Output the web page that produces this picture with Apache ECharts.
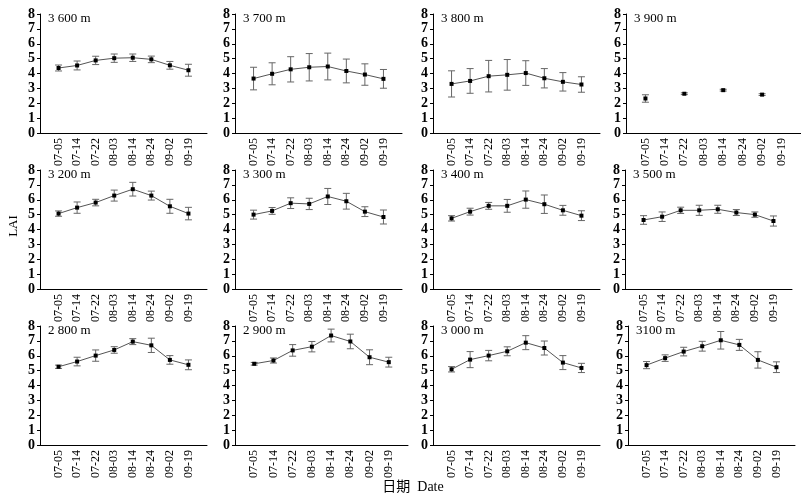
<!DOCTYPE html>
<html>
<head>
<meta charset="utf-8">
<script src="https://cdn.jsdelivr.net/npm/echarts@6/dist/echarts.min.js"></script>
<style>
html,body{margin:0;padding:0;background:#fff;}
#chart{width:801px;height:496px;}
</style>
</head>
<body>
<div id="chart"></div>
<script>
// ---- data ----
const dates = ['07-05','07-14','07-22','08-03','08-14','08-24','09-02','09-19'];
const panelNames = ['3 600 m','3 700 m','3 800 m','3 900 m','3 200 m','3 300 m','3 400 m','3 500 m','2 800 m','2 900 m','3 000 m','3100 m'];
const yTicks = [0,1,2,3,4,5,6,7,8];

const lai3600 = [4.37, 4.54, 4.88, 5.03, 5.06, 4.95, 4.55, 4.22];
const sd3600  = [0.20, 0.30, 0.28, 0.28, 0.25, 0.22, 0.26, 0.40];
const lai3700 = [3.66, 3.98, 4.28, 4.42, 4.47, 4.17, 3.93, 3.64];
const sd3700  = [0.76, 0.74, 0.85, 0.92, 0.90, 0.80, 0.72, 0.63];
const lai3800 = [3.30, 3.50, 3.82, 3.91, 4.03, 3.68, 3.44, 3.26];
const sd3800  = [0.88, 0.83, 1.06, 1.03, 0.83, 0.65, 0.62, 0.52];
const lai3900 = [2.32, null, 2.64, null, 2.88, null, 2.58, null];
const sd3900  = [0.25, null, 0.06, null, 0.06, null, 0.06, null];

const lai3200 = [5.07, 5.47, 5.81, 6.28, 6.71, 6.28, 5.56, 5.07];
const sd3200  = [0.18, 0.38, 0.22, 0.37, 0.46, 0.30, 0.47, 0.42];
const lai3300 = [5.00, 5.25, 5.77, 5.72, 6.22, 5.90, 5.20, 4.84];
const sd3300  = [0.30, 0.23, 0.36, 0.38, 0.54, 0.53, 0.33, 0.47];
const lai3400 = [4.75, 5.20, 5.59, 5.59, 6.01, 5.70, 5.29, 4.93];
const sd3400  = [0.18, 0.23, 0.23, 0.43, 0.58, 0.62, 0.33, 0.33];
const lai3500 = [4.64, 4.86, 5.29, 5.29, 5.36, 5.14, 5.00, 4.57];
const sd3500  = [0.29, 0.32, 0.21, 0.34, 0.27, 0.20, 0.18, 0.34];

const lai2800 = [5.26, 5.61, 6.01, 6.39, 6.95, 6.70, 5.72, 5.39];
const sd2800  = [0.11, 0.29, 0.38, 0.22, 0.20, 0.48, 0.29, 0.33];
const lai2900 = [5.46, 5.68, 6.36, 6.61, 7.36, 6.96, 5.90, 5.57];
const sd2900  = [0.09, 0.17, 0.39, 0.35, 0.43, 0.49, 0.50, 0.33];
const lai3000 = [5.09, 5.74, 6.01, 6.30, 6.88, 6.52, 5.54, 5.18];
const sd3000  = [0.18, 0.54, 0.35, 0.30, 0.47, 0.47, 0.47, 0.31];
const lai3100 = [5.37, 5.84, 6.28, 6.64, 7.04, 6.73, 5.72, 5.23];
const sd3100  = [0.24, 0.22, 0.29, 0.33, 0.59, 0.37, 0.55, 0.36];

const means = [lai3600, lai3700, lai3800, lai3900, lai3200, lai3300, lai3400, lai3500, lai2800, lai2900, lai3000, lai3100];
const sds   = [sd3600, sd3700, sd3800, sd3900, sd3200, sd3300, sd3400, sd3500, sd2800, sd2900, sd3000, sd3100];

// ---- layout ----
const rowTops = [14, 170, 326];
const gridH = 119;
const lefts  = [40, 235, 433, 626, 40, 235, 433, 625, 40, 235, 433, 628];
const widths = [167, 167, 167, 184, 167, 167, 167, 167, 167, 173, 167, 167];
const SERIF = '"Liberation Serif", "Times New Roman", serif';

const chart = echarts.init(document.getElementById('chart'), null, {renderer: 'canvas'});
const grid = [], xAxis = [], yAxis = [], series = [], title = [];
const xCats = [''].concat(dates).concat(['']);

for (let i = 0; i < 12; i++) {
  const r = Math.floor(i / 4);
  const top = rowTops[r];
  grid.push({left: lefts[i], top: top, width: widths[i], height: gridH});
  xAxis.push({
    type: 'category', gridIndex: i, boundaryGap: false, data: xCats,
    axisLine: {show: true, lineStyle: {color: '#000', width: 1}},
    axisTick: {show: false},
    axisLabel: {rotate: 90, interval: 0, fontSize: 12, fontFamily: SERIF, color: '#000', margin: 5},
    splitLine: {show: false}
  });
  yAxis.push({
    type: 'value', gridIndex: i, min: yTicks[0], max: yTicks[yTicks.length - 1], interval: 1,
    axisLine: {show: true, lineStyle: {color: '#000', width: 1}},
    axisTick: {show: true, inside: false, length: 3, lineStyle: {color: '#000'}},
    axisLabel: {fontSize: 14, fontFamily: SERIF, color: '#000', margin: 5, fontWeight: 'bold'},
    splitLine: {show: false}
  });
  title.push({
    text: panelNames[i], left: lefts[i] + 8, top: top - 2, padding: 0,
    textStyle: {fontSize: 13, fontFamily: SERIF, color: '#000', fontWeight: 'normal'}
  });
  const m = means[i], s = sds[i];
  const errData = [];
  m.forEach((v, j) => { if (v != null) errData.push([j + 1, v - s[j], v + s[j]]); });
  series.push({
    type: 'custom', xAxisIndex: i, yAxisIndex: i, data: errData, z: 2, silent: true,
    renderItem: function (params, api) {
      const x = api.value(0);
      const lo = api.coord([x, api.value(1)]);
      const hi = api.coord([x, api.value(2)]);
      const hw = 3.5;
      const st = {stroke: '#666', lineWidth: 1, fill: null};
      return {type: 'group', children: [
        {type: 'line', shape: {x1: lo[0], y1: lo[1], x2: hi[0], y2: hi[1]}, style: st},
        {type: 'line', shape: {x1: lo[0] - hw, y1: lo[1], x2: lo[0] + hw, y2: lo[1]}, style: st},
        {type: 'line', shape: {x1: hi[0] - hw, y1: hi[1], x2: hi[0] + hw, y2: hi[1]}, style: st}
      ]};
    }
  });
  series.push({
    type: 'line', xAxisIndex: i, yAxisIndex: i, z: 3,
    data: [null].concat(m).concat([null]), connectNulls: false,
    symbol: 'rect', symbolSize: 4, showSymbol: true,
    itemStyle: {color: '#000'},
    lineStyle: {color: '#555', width: 1},
    animation: false
  });
}

chart.setOption({
  animation: false,
  backgroundColor: '#fff',
  title: title,
  grid: grid, xAxis: xAxis, yAxis: yAxis, series: series,
  graphic: [
    {type: 'text', x: 14, y: 226, rotation: Math.PI / 2,
     style: {text: 'LAI', font: '13px ' + SERIF, fill: '#000', textAlign: 'center', textVerticalAlign: 'middle'}},
    {type: 'text', x: 413, y: 487,
     style: {text: '日期  Date', font: '14px "Liberation Serif", "Noto Sans CJK SC", serif', fill: '#000', textAlign: 'center', textVerticalAlign: 'middle'}}
  ]
});
</script>
</body>
</html>
